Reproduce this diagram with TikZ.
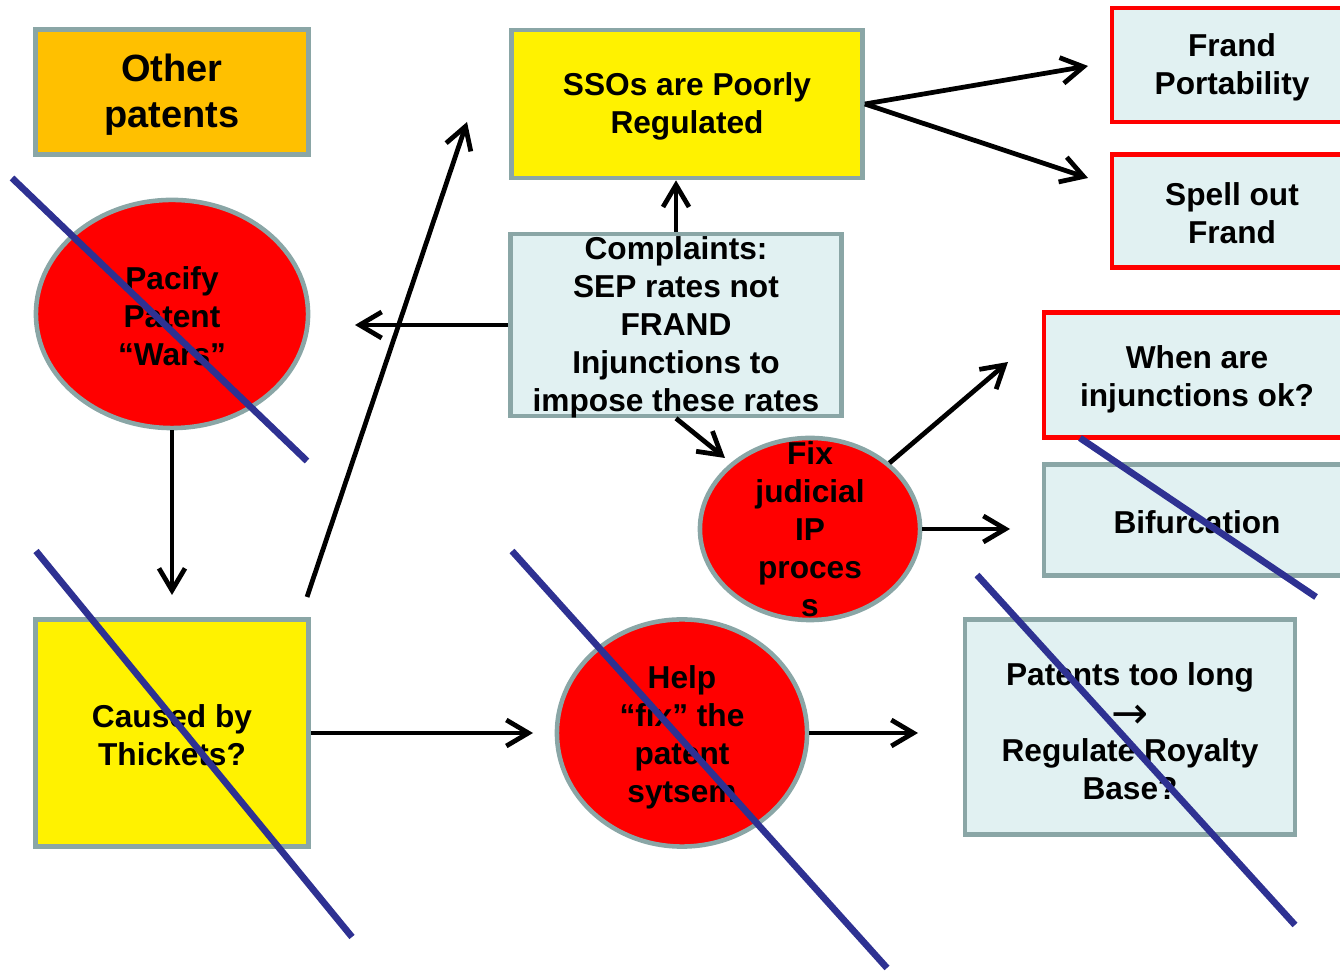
\documentclass[tikz,border=0pt]{standalone}
\usepackage{fontspec}
\setmainfont{Liberation Sans}
\newfontfamily\arrowfont{DejaVu Sans}
\usetikzlibrary{shapes.geometric,arrows.meta}
\definecolor{rimgray}{RGB}{138,166,166}
\definecolor{paleblue}{RGB}{225,241,242}
\definecolor{amber}{RGB}{255,192,0}
\definecolor{strikeblue}{RGB}{46,49,146}
\tikzset{
  outline/.style={draw=rimgray, line width=1.3pt, inner sep=0pt},
  yellowbox/.style={outline, rectangle, fill=yellow},
  bluebox/.style={outline, rectangle, fill=paleblue},
  redbox/.style={outline, rectangle, fill=paleblue, draw=red},
  redoval/.style={outline, ellipse, fill=red},
  txt/.style={align=center, inner sep=0pt, yshift=-0.25mm, font=\bfseries\fontsize{9}{10.8}\selectfont},
  link/.style={line width=1.35pt, -{Straight Barb[length=2.2mm,width=2.6mm]}},
  cross/.style={strikeblue, line width=1.9pt}
}
\begin{document}
\begin{tikzpicture}[x=0.01cm, y=-0.01cm]
  \useasboundingbox (0,0) rectangle (1340,971);
  % left column
  \node[outline, rectangle, fill=amber, minimum width=2.73cm, minimum height=1.25cm] (oth) at (172,92) {};
  \node[txt, font=\bfseries\fontsize{10.8}{13}\selectfont] (othtext) at (oth) {Other\\patents};
  \node[redoval, minimum width=2.72cm, minimum height=2.28cm] (pac) at (172,314) {};
  \node[txt] (pactext) at (pac) {Pacify\\Patent\\“Wars”};
  \node[yellowbox, minimum width=2.73cm, minimum height=2.27cm] (thk) at (172,733) {};
  \node[txt] (thktext) at (thk) {Caused by\\Thickets?};
  % middle
  \node[yellowbox, minimum width=3.51cm, minimum height=1.48cm] (sso) at (687,104) {};
  \node[txt] (ssotext) at (sso) {SSOs are Poorly\\Regulated};
  \node[bluebox, minimum width=3.31cm, minimum height=1.82cm] (cmp) at (676,325) {};
  \node[txt] (cmptext) at (cmp) {Complaints:\\SEP rates not\\FRAND\\Injunctions to\\impose these rates};
  \node[redoval, minimum width=2.2cm, minimum height=1.82cm] (fix) at (810,529) {};
  \node[txt] (fixtext) at (810,527) {Fix\\judicial\\IP\\proces\\s};
  \node[redoval, minimum width=2.5cm, minimum height=2.27cm] (hlp) at (682,733) {};
  \node[txt] (hlptext) at (682,735) {Help\\“fix” the\\patent\\sytsem};
  % right column
  \node[redbox, minimum width=2.4cm, minimum height=1.14cm] (por) at (1232,65) {};
  \node[txt] (portext) at (por) {Frand\\Portability};
  \node[redbox, minimum width=2.4cm, minimum height=1.13cm] (spl) at (1232,211) {};
  \node[txt] (spltext) at (spl) {Spell out\\Frand};
  \node[redbox, minimum width=3.06cm, minimum height=1.25cm] (inj) at (1197,375) {};
  \node[txt] (injtext) at (1197,377) {When are\\injunctions ok?};
  \node[bluebox, minimum width=3.06cm, minimum height=1.11cm] (bif) at (1197,520) {};
  \node[txt] (biftext) at (bif) {Bifurcation};
  \node[bluebox, minimum width=3.3cm, minimum height=2.15cm] (lng) at (1130,727) {};
  \node[txt] (lngtext) at (1130,729) {Patents too long\\\raisebox{-1.2pt}{\scalebox{1.4}{\arrowfont\mdseries →}}\\Regulate Royalty\\Base?};
  % free ends
  \coordinate (pacend) at (172,595);
  \coordinate (thkend) at (533,733);
  \coordinate (diagstart) at (307,597);
  \coordinate (diagend) at (467,122);
  \coordinate (cmpend) at (355,325);
  \coordinate (fixin) at (725,458);
  \coordinate (injend) at (1008,362);
  \coordinate (bifend) at (1010,529);
  \coordinate (lngend) at (918,733);
  \coordinate (porend) at (1088,66);
  \coordinate (splend) at (1088,178);
  \begin{scope}[link]
    \draw (pac.south) to (pacend);
    \draw (thk.east) to (thkend);
    \draw (diagstart) to (diagend);
    \draw (cmp.north) to (cmp.north |- sso.south);
    \draw (cmp.west) to (cmpend);
    \draw (cmp.south) to (fixin);
    \draw (fix.north east) to (injend);
    \draw (fix.east) to (bifend);
    \draw (hlp.east) to (lngend);
    \draw (sso.east) to (porend);
    \draw (sso.east) to (splend);
  \end{scope}
  % strike-throughs
  \draw[cross] (12,178) -- (307,461);
  \draw[cross] (36,551) -- (352,937);
  \draw[cross] (512,551) -- (887,968);
  \draw[cross] (1080,438) -- (1316,597);
  \draw[cross] (977,575) -- (1295,925);
\end{tikzpicture}
\end{document}
